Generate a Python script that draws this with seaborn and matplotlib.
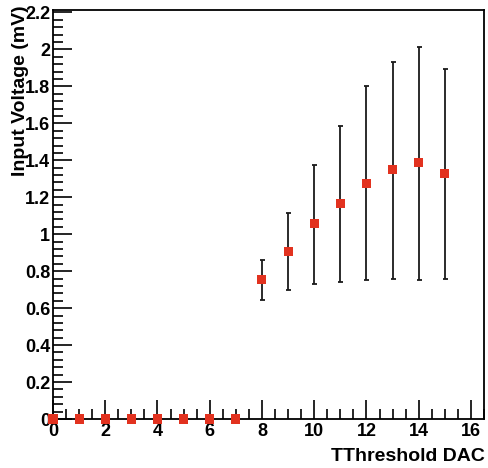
import matplotlib
matplotlib.use("Agg")
import matplotlib.pyplot as plt
import seaborn as sns
import numpy as np
import pandas as pd
from matplotlib.ticker import MultipleLocator, FixedLocator, FuncFormatter

# Data
dac = [0, 1, 2, 3, 4, 5, 6, 7, 8, 9, 10, 11, 12, 13, 14, 15]
voltage = [0, 0, 0, 0, 0, 0, 0, 0, 0.755, 0.906, 1.059, 1.166, 1.277, 1.348, 1.389, 1.330]
err_high = [0, 0, 0, 0, 0, 0, 0, 0, 0.86, 1.117, 1.373, 1.585, 1.804, 1.931, 2.015, 1.892]
err_low = [0, 0, 0, 0, 0, 0, 0, 0, 0.645, 0.699, 0.733, 0.739, 0.751, 0.758, 0.751, 0.758]
x_ticks = [0, 2, 4, 6, 8, 10, 12, 14, 16]
y_ticks = [0, 0.2, 0.4, 0.6, 0.8, 1.0, 1.2, 1.4, 1.6, 1.8, 2.0, 2.2]
x_title = "TThreshold DAC"
y_title = "Input Voltage (mV)"

sns.set_style("ticks")
plt.rcParams['font.family'] = ['Liberation Sans', 'DejaVu Sans']
plt.rcParams['font.weight'] = 'bold'

df = pd.DataFrame({"dac": dac, "v": voltage, "hi": err_high, "lo": err_low})

fig = plt.figure(figsize=(4.88, 4.68), dpi=100)
ax = fig.add_axes([53/488, 49/468, (484-53)/488, (458.5-49)/468])

# error bars only where nonzero
m = df["hi"] > 0
yerr = np.vstack([(df["v"] - df["lo"])[m], (df["hi"] - df["v"])[m]])
ax.errorbar(df["dac"][m], df["v"][m], yerr=yerr, fmt='none', ecolor='#1a1a1a',
            elinewidth=1.3, capsize=1.8, capthick=1.3, zorder=2)

sns.scatterplot(data=df, x="dac", y="v", marker='s', color='#e2321f', s=42,
                edgecolor='none', ax=ax, zorder=3, clip_on=False, legend=False)

ax.set_xlim(0, 16.5)
ax.set_ylim(0, 2.216)

ax.xaxis.set_major_locator(FixedLocator(x_ticks))
ax.xaxis.set_minor_locator(MultipleLocator(0.5))
ax.yaxis.set_major_locator(FixedLocator(y_ticks))
ax.yaxis.set_minor_locator(MultipleLocator(0.04))
ax.yaxis.set_major_formatter(FuncFormatter(lambda v, p: '%g' % round(v, 2)))
ax.xaxis.set_major_formatter(FuncFormatter(lambda v, p: '%g' % v))

ax.tick_params(axis='both', which='major', direction='in', length=14, width=1.2,
               labelsize=13, colors='black', labelcolor='black')
ax.tick_params(axis='both', which='minor', direction='in', length=7, width=1.2,
               colors='black')
ax.tick_params(axis='y', which='major', pad=2)
ax.tick_params(axis='x', which='major', pad=3)
ax.tick_params(top=False, right=False, which='both')

for sp in ax.spines.values():
    sp.set_visible(True)
    sp.set_linewidth(1.3)
    sp.set_color('black')

ax.set_xlabel(x_title, fontsize=14, fontweight='bold', loc='right', color='black')
ax.set_ylabel(y_title, fontsize=14, fontweight='bold', loc='top', color='black')
ax.xaxis.set_label_coords(1.002, -0.07)
ax.yaxis.set_label_coords(-0.056, 1.01)

for lab in ax.get_xticklabels() + ax.get_yticklabels():
    lab.set_fontweight('bold')

fig.savefig("out.png", dpi=100)
